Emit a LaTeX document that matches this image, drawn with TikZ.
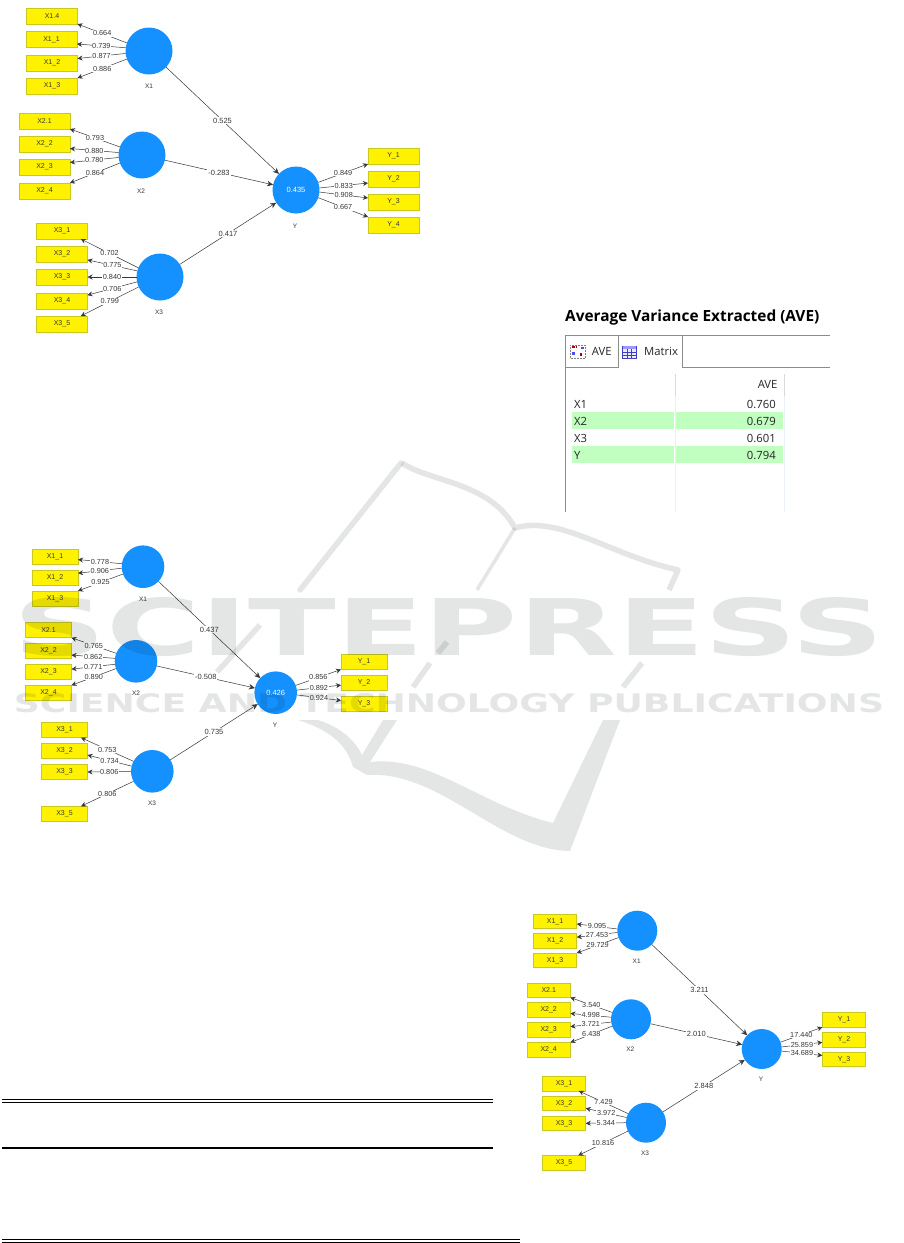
\documentclass[tikz,border=0pt]{standalone}
\usepackage{fontspec}
\usepackage{graphicx}
\setmainfont{Liberation Sans}
\newfontfamily\panelfont{Open Sans}
\newfontfamily\markfont{DejaVu Sans}
\usetikzlibrary{arrows.meta}

\definecolor{lvblue}{RGB}{20,145,255}
\definecolor{boxedge}{RGB}{200,200,30}
\definecolor{inkgray}{RGB}{55,55,55}
\definecolor{rowgreen}{RGB}{192,255,192}
\definecolor{sepblue}{RGB}{232,240,248}
\definecolor{markgray}{RGB}{228,230,230}

\tikzset{
  indbox/.style={draw=boxedge, fill=yellow, line width=0.6pt, inner sep=0pt, outer sep=0pt, text=inkgray, font=\fontsize{7}{8}\selectfont},
  indboxa/.style={indbox, minimum width=51pt, minimum height=16pt},
  indboxb/.style={indbox, minimum width=46pt, minimum height=15.5pt},
  indboxc/.style={indbox, minimum width=43.5pt, minimum height=14.5pt},
  lvcirc/.style={circle, fill=lvblue, inner sep=0pt, outer sep=0pt, text=white, font=\fontsize{7.5}{8}\selectfont},
  lvcirca/.style={lvcirc, minimum size=47pt},
  lvcircb/.style={lvcirc, minimum size=42.6pt},
  lvcircc/.style={lvcirc, minimum size=40pt},
  lvname/.style={inner sep=0pt, text=inkgray, font=\fontsize{6.5}{7}\selectfont},
  loadline/.style={draw=inkgray, line width=0.5pt, -{Stealth[length=5pt,width=5pt]}},
  pathline/.style={draw=inkgray, line width=0.5pt, -{Stealth[length=6pt,width=5.5pt]}},
  loadval/.style={fill=white, inner sep=0.6pt, text=inkgray, font=\fontsize{7.3}{8}\selectfont},
  pathval/.style={fill=white, inner sep=1pt, text=inkgray, font=\fontsize{7.5}{8}\selectfont},
  tabletxt/.style={inner sep=0pt, text=black!85, font=\panelfont\fontsize{11.3}{13}\selectfont},
  panelline/.style={draw=black!45, line width=0.7pt},
  bookline/.style={draw=markgray, line width=5.5pt},
}

\begin{document}
\begin{tikzpicture}[x=1pt,y=-1pt]
\fill[white] (0,0) rectangle (904,1243);
\useasboundingbox (0,0) rectangle (904,1243);

% first model
\node[indboxa] (aX14) at (52,16) {X1.4};
\node[indboxa] (aX11) at (51.5,39.5) {X1\_1};
\node[indboxa] (aX12) at (52,63) {X1\_2};
\node[indboxa] (aX13) at (52,86) {X1\_3};
\node[indboxa] (aX21) at (44.5,121) {X2.1};
\node[indboxa] (aX22) at (44.5,144) {X2\_2};
\node[indboxa] (aX23) at (44.5,167) {X2\_3};
\node[indboxa] (aX24) at (44.5,191) {X2\_4};
\node[indboxa] (aX31) at (62,231) {X3\_1};
\node[indboxa] (aX32) at (62,254) {X3\_2};
\node[indboxa] (aX33) at (62,277) {X3\_3};
\node[indboxa] (aX34) at (62,301) {X3\_4};
\node[indboxa] (aX35) at (62,324) {X3\_5};
\node[indboxa] (aY1) at (393.5,156) {Y\_1};
\node[indboxa] (aY2) at (393.5,179) {Y\_2};
\node[indboxa] (aY3) at (393.5,202) {Y\_3};
\node[indboxa] (aY4) at (393.5,225) {Y\_4};

\node[lvcirca] (aX1) at (149,51) {};
\node[lvcirca] (aX2) at (142,155) {};
\node[lvcirca] (aX3) at (160,277) {};
\node[lvcirca] (aY) at (296,190) {0.435};
\node[lvname] (aX1name) at (149,86) {X1};
\node[lvname] (aX2name) at (141,191) {X2};
\node[lvname] (aX3name) at (159,312) {X3};
\node[lvname] (aYname) at (295,226) {Y};

\draw[loadline] (aX1.160) -- node[loadval] {0.664} (aX14.south east);
\draw[loadline] (aX1.172) -- node[loadval] {0.739} (aX11.-10);
\draw[loadline] (aX1.186) -- node[loadval] {0.877} (aX12.10);
\draw[loadline] (aX1.200) -- node[loadval] {0.886} (aX13.north east);
\draw[loadline] (aX2.160) -- node[loadval] {0.793} (aX21.south east);
\draw[loadline] (aX2.174) -- node[loadval] {0.880} (aX22.-10);
\draw[loadline] (aX2.186) -- node[loadval] {0.780} (aX23.10);
\draw[loadline] (aX2.200) -- node[loadval] {0.864} (aX24.north east);
\draw[loadline] (aX3.157) -- node[loadval] {0.702} (aX31.-23);
\draw[loadline] (aX3.165) -- node[loadval] {0.775} (aX32.-13);
\draw[loadline] (aX3.180) -- node[loadval] {0.840} (aX33.east);
\draw[loadline] (aX3.192) -- node[loadval] {0.706} (aX34.13);
\draw[loadline] (aX3.205) -- node[loadval] {0.799} (aX35.23);
\draw[loadline] (aY.19) -- node[loadval] {0.849} (aY1.south west);
\draw[loadline] (aY.5) -- node[loadval] {0.833} (aY2.189);
\draw[loadline] (aY.-5) -- node[loadval] {0.908} (aY3.171);
\draw[loadline] (aY.-19) -- node[loadval] {0.667} (aY4.north west);

\draw[pathline] (aX1) -- node[pathval] {0.525} (aY);
\draw[pathline] (aX2) -- node[pathval] {-0.283} (aY);
\draw[pathline] (aX3) -- node[pathval] {0.417} (aY);

% second model
\node[indboxb] (bX11) at (55,556.7) {X1\_1};
\node[indboxb] (bX12) at (55,577.7) {X1\_2};
\node[indboxb] (bX13) at (55,598.7) {X1\_3};
\node[indboxb] (bX21) at (48.5,630) {X2.1};
\node[indboxb] (bX22) at (48.5,651) {X2\_2};
\node[indboxb] (bX23) at (48.5,672) {X2\_3};
\node[indboxb] (bX24) at (48.5,693) {X2\_4};
\node[indboxb] (bX31) at (64.5,730) {X3\_1};
\node[indboxb] (bX32) at (64.5,751) {X3\_2};
\node[indboxb] (bX33) at (64.5,772) {X3\_3};
\node[indboxb] (bX35) at (64.5,814) {X3\_5};
\node[indboxb] (bY1) at (364,661.7) {Y\_1};
\node[indboxb] (bY2) at (364,682.7) {Y\_2};
\node[indboxb] (bY3) at (364,703.7) {Y\_3};

\node[lvcircb] (bX1) at (143,566.7) {};
\node[lvcircb] (bX2) at (136,661.3) {};
\node[lvcircb] (bX3) at (152.3,771.3) {};
\node[lvcircb] (bY) at (275.7,692.7) {0.426};
\node[lvname] (bX1name) at (143,599) {X1};
\node[lvname] (bX2name) at (136,693) {X2};
\node[lvname] (bX3name) at (152,803) {X3};
\node[lvname] (bYname) at (275,725) {Y};

\draw[loadline] (bX1.172) -- node[loadval] {0.778} (bX11.-7);
\draw[loadline] (bX1.184) -- node[loadval] {0.906} (bX12.11);
\draw[loadline] (bX1.200) -- node[loadval] {0.925} (bX13.north east);
\draw[loadline] (bX2.158) -- node[loadval] {0.765} (bX21.south east);
\draw[loadline] (bX2.172) -- node[loadval] {0.862} (bX22.-10);
\draw[loadline] (bX2.188) -- node[loadval] {0.771} (bX23.7);
\draw[loadline] (bX2.200) -- node[loadval] {0.890} (bX24.north east);
\draw[loadline] (bX3.152) -- node[loadval] {0.753} (bX31.-25);
\draw[loadline] (bX3.166) -- node[loadval] {0.734} (bX32.-10);
\draw[loadline] (bX3.180) -- node[loadval] {0.806} (bX33.east);
\draw[loadline] (bX3.208) -- node[loadval] {0.806} (bX35.25);
\draw[loadline] (bY.20) -- node[loadval] {0.856} (bY1.south west);
\draw[loadline] (bY.7) -- node[loadval] {0.892} (bY2.186);
\draw[loadline] (bY.-6) -- node[loadval] {0.924} (bY3.172);

\draw[pathline] (bX1) -- node[pathval] {0.437} (bY);
\draw[pathline] (bX2) -- node[pathval] {-0.508} (bY);
\draw[pathline] (bX3) -- node[pathval] {0.735} (bY);

% third model
\node[indboxc] (cX11) at (555,921.3) {X1\_1};
\node[indboxc] (cX12) at (555,941) {X1\_2};
\node[indboxc] (cX13) at (555,960.3) {X1\_3};
\node[indboxc] (cX21) at (548.7,990.3) {X2.1};
\node[indboxc] (cX22) at (548.7,1010) {X2\_2};
\node[indboxc] (cX23) at (548.7,1029.7) {X2\_3};
\node[indboxc] (cX24) at (548.7,1049.7) {X2\_4};
\node[indboxc] (cX31) at (564,1083.7) {X3\_1};
\node[indboxc] (cX32) at (564,1103.3) {X3\_2};
\node[indboxc] (cX33) at (564,1123.3) {X3\_3};
\node[indboxc] (cX35) at (564,1162.7) {X3\_5};
\node[indboxc] (cY1) at (844,1020) {Y\_1};
\node[indboxc] (cY2) at (844,1039.7) {Y\_2};
\node[indboxc] (cY3) at (844,1059.3) {Y\_3};

\node[lvcircc] (cX1) at (637.3,930.7) {};
\node[lvcircc] (cX2) at (631,1019.3) {};
\node[lvcircc] (cX3) at (646,1122.7) {};
\node[lvcircc] (cY) at (761.7,1049) {};
\node[lvname] (cX1name) at (636.7,961) {X1};
\node[lvname] (cX2name) at (630.3,1049.3) {X2};
\node[lvname] (cX3name) at (645,1153) {X3};
\node[lvname] (cYname) at (761,1079) {Y};

\draw[loadline] (cX1.175) -- node[loadval] {9.095} (cX11.-7);
\draw[loadline] (cX1.185) -- node[loadval] {27.453} (cX12.10);
\draw[loadline] (cX1.200) -- node[loadval] {29.729} (cX13.north east);
\draw[loadline] (cX2.160) -- node[loadval] {3.540} (cX21.south east);
\draw[loadline] (cX2.174) -- node[loadval] {4.998} (cX22.-9);
\draw[loadline] (cX2.188) -- node[loadval] {3.721} (cX23.8);
\draw[loadline] (cX2.200) -- node[loadval] {6.438} (cX24.north east);
\draw[loadline] (cX3.153) -- node[loadval] {7.429} (cX31.-26);
\draw[loadline] (cX3.165) -- node[loadval] {3.972} (cX32.-13);
\draw[loadline] (cX3.180) -- node[loadval] {5.344} (cX33.east);
\draw[loadline] (cX3.205) -- node[loadval] {10.816} (cX35.27);
\draw[loadline] (cY.20) -- node[loadval] {17.440} (cY1.south west);
\draw[loadline] (cY.6) -- node[loadval] {25.859} (cY2.187);
\draw[loadline] (cY.-6) -- node[loadval] {34.689} (cY3.170);

\draw[pathline] (cX1) -- node[pathval] {3.211} (cY);
\draw[pathline] (cX2) -- node[pathval] {2.010} (cY);
\draw[pathline] (cX3) -- node[pathval] {2.848} (cY);

% AVE panel
\node[anchor=west, inner sep=0pt, font=\panelfont\fontsize{15.4}{17}\bfseries] (avetitle) at (565,317.5) {Average Variance Extracted (AVE)};

\draw[panelline] (565.7,512) -- (565.7,335.7) -- (830,335.7);
\draw[panelline] (565.7,367.7) -- (618.3,367.7) -- (618.3,335.7);
\draw[panelline] (682.3,335.7) -- (682.3,367.7) -- (830,367.7);

\fill[rowgreen] (572,412.3) rectangle (674,429);
\fill[rowgreen] (676,412.3) rectangle (783,429);
\fill[rowgreen] (572,446) rectangle (674,462.7);
\fill[rowgreen] (676,446) rectangle (783,462.7);
\draw[sepblue, line width=0.8pt] (675.3,396) -- (675.3,512);
\draw[sepblue, line width=0.8pt] (784.7,396) -- (784.7,512);
\draw[black!15, line width=0.8pt] (675.3,374) -- (675.3,396);
\draw[black!15, line width=0.8pt] (784.7,374) -- (784.7,396);

% tab icons
\draw[gray, line width=0.5pt, densely dotted] (570,345) rectangle (585,358);
\fill[red!70!black] (572,345.5) rectangle (574.5,348);
\fill[red!70!black] (575.5,345.5) rectangle (577,348);
\fill[blue!70] (581,347) rectangle (583.5,349);
\fill[blue!70] (571.5,352) rectangle (575,354.5);
\fill[red!70!black] (580,353) rectangle (582,355.5);
\draw[blue!50!gray, line width=0.5pt, fill=blue!8] (622.5,346) rectangle (636,358);
\fill[blue!40] (622.5,346) rectangle (636,349);
\draw[blue!50!gray, line width=0.3pt] (622.5,352) -- (636,352);
\draw[blue!50!gray, line width=0.3pt] (622.5,355) -- (636,355);
\draw[blue!50!gray, line width=0.3pt] (627,349) -- (627,358);
\draw[blue!50!gray, line width=0.3pt] (631.5,349) -- (631.5,358);

\node[tabletxt] (tabave) at (601.7,351) {AVE};
\node[tabletxt] (tabmatrix) at (661,351) {Matrix};
\node[tabletxt, anchor=east] (colave) at (777.7,384.3) {AVE};

\node[tabletxt, anchor=west] (rowa) at (574,404) {X1};
\node[tabletxt, anchor=west] (rowb) at (574,421) {X2};
\node[tabletxt, anchor=west] (rowc) at (574,438) {X3};
\node[tabletxt, anchor=west] (rowd) at (574,455) {Y};
\node[tabletxt, anchor=east] (vala) at (776,404) {0.760};
\node[tabletxt, anchor=east] (valb) at (776,421) {0.679};
\node[tabletxt, anchor=east] (valc) at (776,438) {0.601};
\node[tabletxt, anchor=east] (vald) at (776,455) {0.794};

% table rules
\draw[black, line width=0.8pt] (2,1099.7) -- (493,1099.7);
\draw[black, line width=0.8pt] (2,1102.7) -- (493,1102.7);
\draw[black, line width=1.8pt] (2,1148) -- (493,1148);
\draw[black, line width=0.8pt] (2,1239.5) -- (520,1239.5);
\draw[black, line width=0.8pt] (2,1242.4) -- (520,1242.4);

% watermark
\begin{scope}[blend mode=multiply]
\draw[bookline, line cap=round] (401,463) -- (300,590);
\draw[bookline, line join=round] (402,463) .. controls (430,482) and (490,482) .. (515,528) .. controls (560,515) and (610,555) .. (678,570) -- (669,590);
\draw[bookline, line width=3.5pt] (515,528) -- (477,590);
\draw[bookline] (447,642) -- (438,653);
\draw[bookline] (430,663) -- (413,687);
\draw[bookline] (642,663) -- (623,687);
\draw[bookline] (260,625) -- (217,672);
\fill[markgray] (298,720) .. controls (330,730) and (347,745) .. (353,767) -- (367,775) .. controls (440,770) and (500,850) .. (570,851) -- (620,720) -- (603,720) -- (553,823) .. controls (480,805) and (430,755) .. (370,762) -- (397,720) -- (383,720) -- (362,755) .. controls (355,740) and (340,727) .. (318,720) -- cycle;
\node[inner sep=0pt, text=markgray, font=\markfont\bfseries] (marktop) at (449,627) {\resizebox{870pt}{58pt}{SCITEPRESS}};
\node[inner sep=0pt, text=markgray, font=\markfont\bfseries] (markbot) at (449,703.5) {\resizebox{870pt}{19pt}{SCIENCE AND TECHNOLOGY PUBLICATIONS}};
\end{scope}
\end{tikzpicture}
\end{document}
